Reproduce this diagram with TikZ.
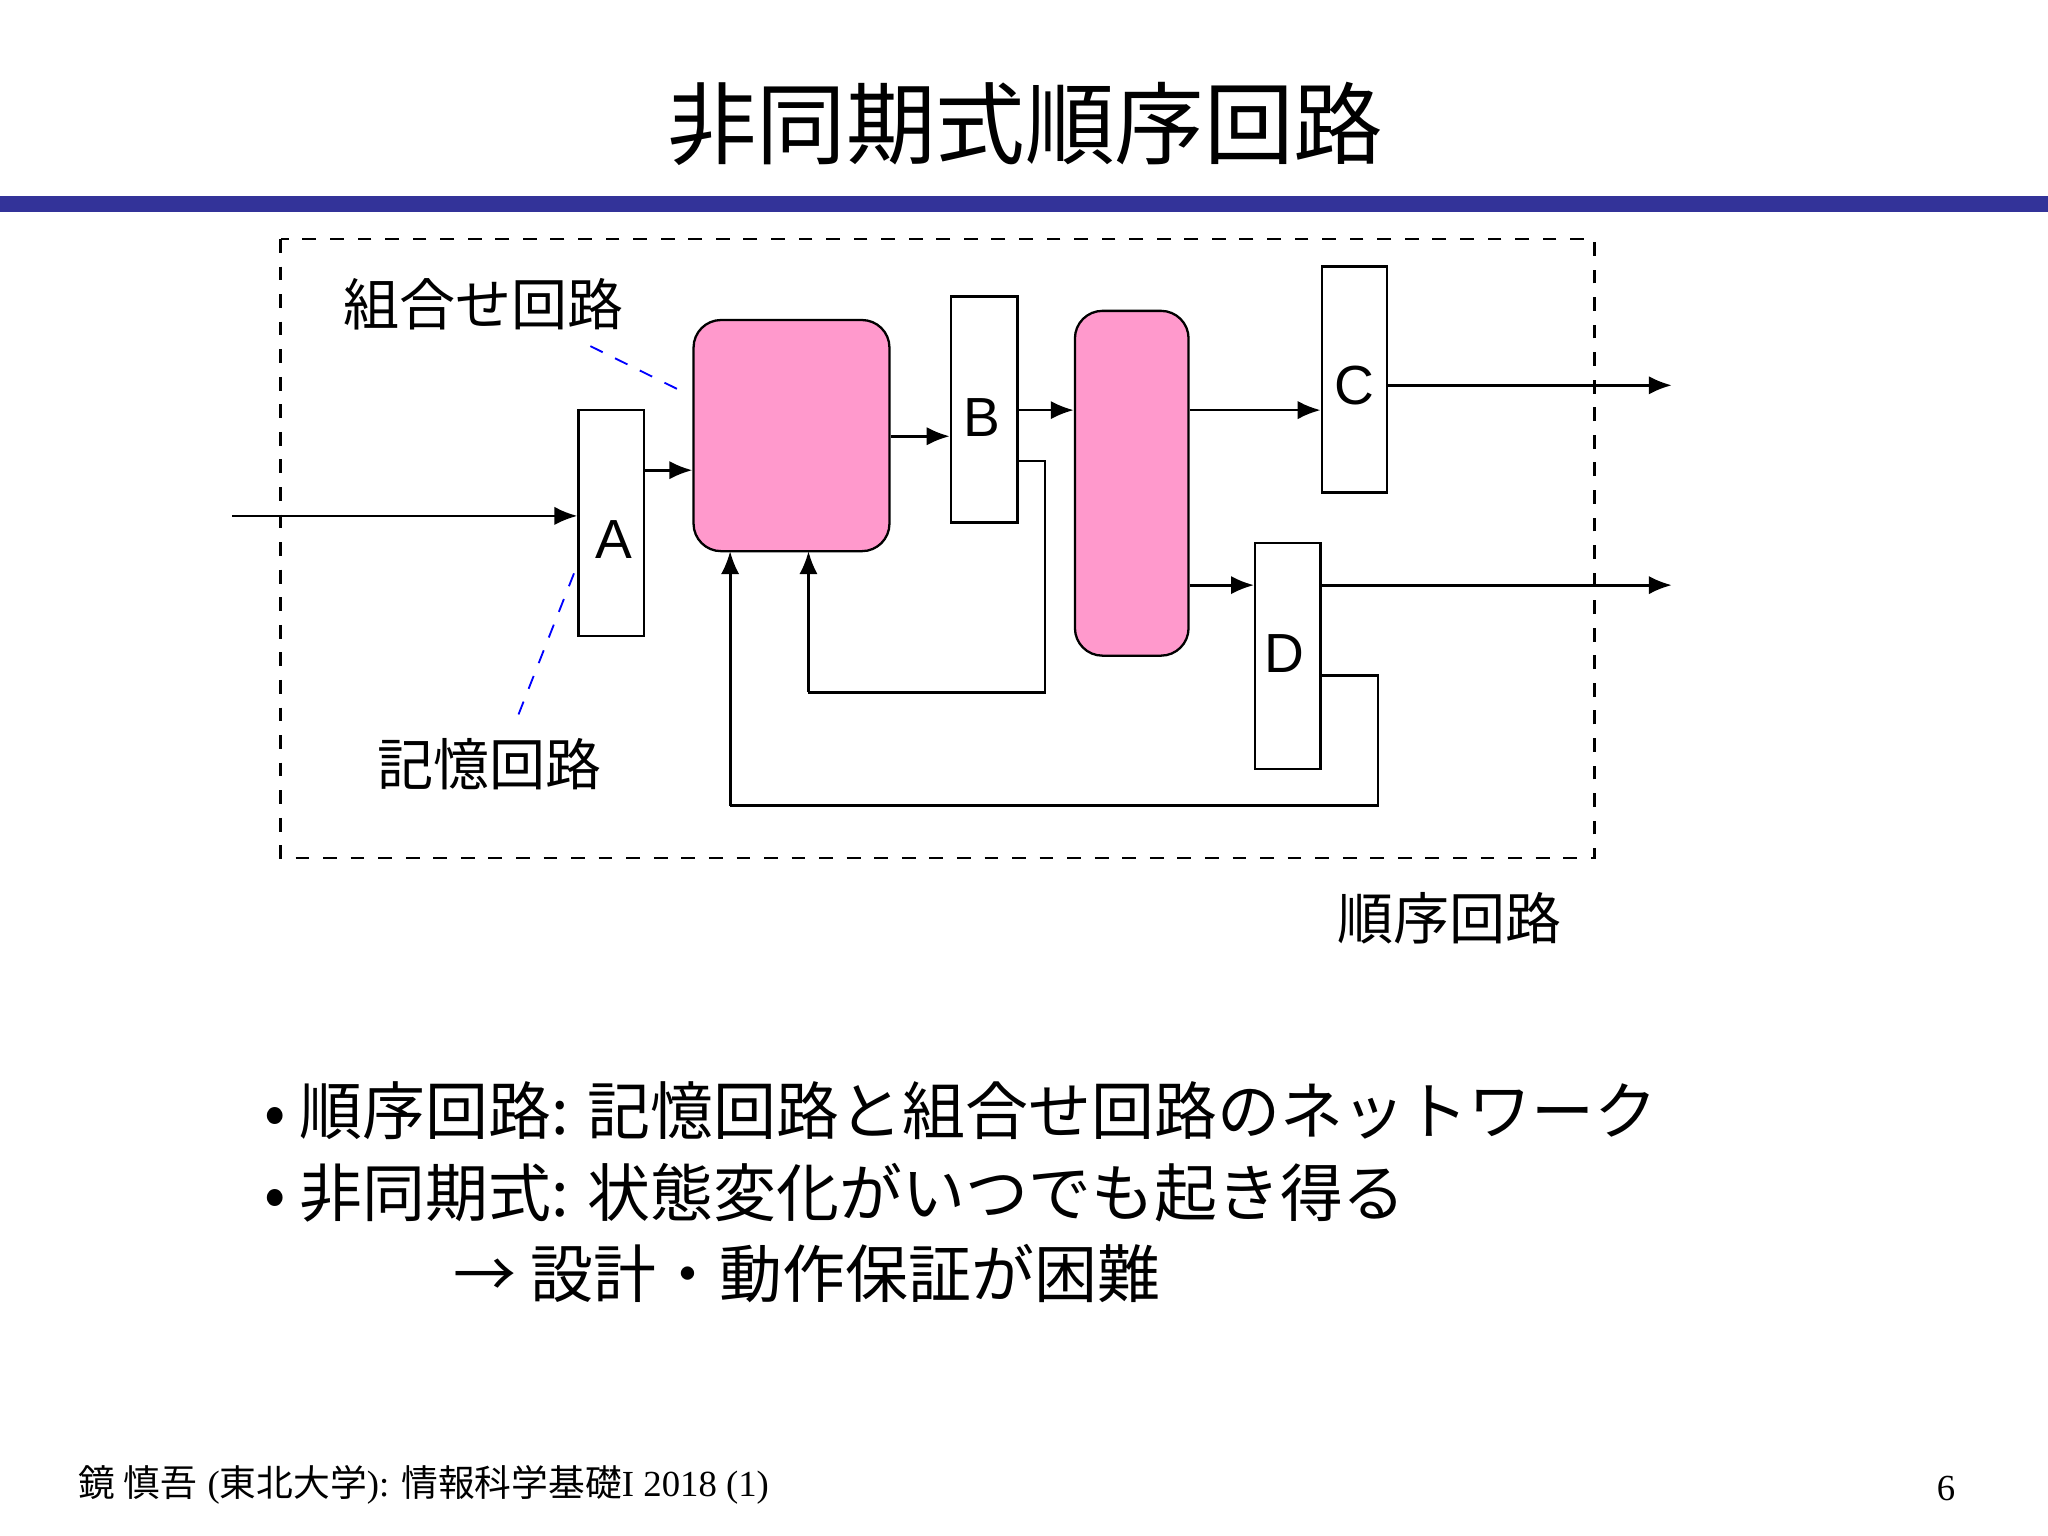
\documentclass[tikz,border=0pt]{standalone}
\usepackage{fontspec}
\setmainfont{Liberation Sans}
\newfontfamily\jp{Noto Sans CJK JP}
\newfontfamily\tms{Liberation Serif}
\usetikzlibrary{arrows.meta}
\definecolor{pinkc}{HTML}{FF99CC}
\definecolor{barc}{HTML}{333399}
\tikzset{
  reg/.style={draw,line width=0.5pt,fill=white},
  comb/.style={draw,line width=0.5pt,fill=pinkc,rounded corners=6pt},
  wire/.style={line width=0.6pt,-{Latex[length=5pt,width=4pt]}},
  fb/.style={line width=0.6pt},
  lead/.style={blue,dashed,line width=0.4pt},
  lbl/.style={font=\fontsize{12pt}{14pt}\selectfont},
}
\begin{document}
\begin{tikzpicture}[x=0.01cm,y=-0.01cm]
\useasboundingbox (0,0) rectangle (1568,1176);
\fill[white] (0,0) rectangle (1568,1176);
\node (title) at (785,95) {\jp\fontsize{19.5pt}{22pt}\selectfont 非同期式順序回路};
\fill[barc] (0,150) rectangle (1568,162);
\draw[dashed,line width=0.6pt] (215,183) rectangle (1221,657);
% blocks
\node[reg,minimum width=50*0.01cm,minimum height=173*0.01cm] (A) at (468,400.5) {};
\node[lbl] at (470,413) {A};
\node[comb,minimum width=150*0.01cm,minimum height=177*0.01cm] (P1) at (606,333.5) {};
\node[reg,minimum width=51*0.01cm,minimum height=173*0.01cm] (B) at (753.5,313.5) {};
\node[lbl] at (752,320) {B};
\node[comb,minimum width=87*0.01cm,minimum height=264*0.01cm] (P2) at (866.5,370) {};
\node[reg,minimum width=50*0.01cm,minimum height=173*0.01cm] (C) at (1037,290.5) {};
\node[lbl] at (1037,295) {C};
\node[reg,minimum width=50*0.01cm,minimum height=173*0.01cm] (D) at (986,502.5) {};
\node[lbl] at (983,500) {D};
\coordinate (in) at (178,395);
\coordinate (o1) at (1280,295);
\coordinate (o2) at (1280,448);
% wires
\draw[wire] (in) -- (in -| A.west);
\draw[wire] (A.east |- 0,360) -- (P1.west |- 0,360);
\draw[wire] (P1.east |- 0,334) -- (B.west |- 0,334);
\draw[wire] (B.east |- 0,314) -- (P2.west |- 0,314);
\draw[wire] (P2.east |- 0,314) -- (C.west |- 0,314);
\draw[wire] (P2.east |- 0,448) -- (D.west |- 0,448);
\draw[wire] (C.east |- o1) -- (o1);
\draw[wire] (D.east |- o2) -- (o2);
\draw[wire,-] (B.east |- 0,353) -- (800,353) -- (800,530) -- (619,530);
\draw[wire] (619,530) -- (619,422);
\draw[wire,-] (D.east |- 0,517) -- (1055,517) -- (1055,617) -- (559,617);
\draw[wire] (559,617) -- (559,422);
% labels
\node (lc) at (370,233) {\jp\fontsize{12.2pt}{14pt}\selectfont 組合せ回路};
\draw[lead] (452,265) -- (527,302);
\node (lm) at (375,585) {\jp\fontsize{12.2pt}{14pt}\selectfont 記憶回路};
\draw[lead] (397,547) -- (443,430);
\node (ls) at (1110,703) {\jp\fontsize{12.2pt}{14pt}\selectfont 順序回路};
% bullets
\node[anchor=west] (b1) at (190,850) {\jp\fontsize{13.7pt}{16pt}\selectfont • 順序回路: 記憶回路と組合せ回路のネットワーク};
\node[anchor=west] (b2) at (190,913) {\jp\fontsize{13.7pt}{16pt}\selectfont • 非同期式: 状態変化がいつでも起き得る};
\node[anchor=west] (b3) at (335,975) {\jp\fontsize{13.7pt}{16pt}\selectfont → 設計・動作保証が困難};
% footer
\node[anchor=west] (ft) at (48,1137) {\fontsize{8pt}{10pt}\selectfont{\jp 鏡 慎吾} {\tms (}{\jp 東北大学}{\tms ): }{\jp 情報科学基礎}{\tms I 2018 (1)}};
\node (pg) at (1490,1140) {\tms\fontsize{8pt}{10pt}\selectfont 6};
\end{tikzpicture}
\end{document}
